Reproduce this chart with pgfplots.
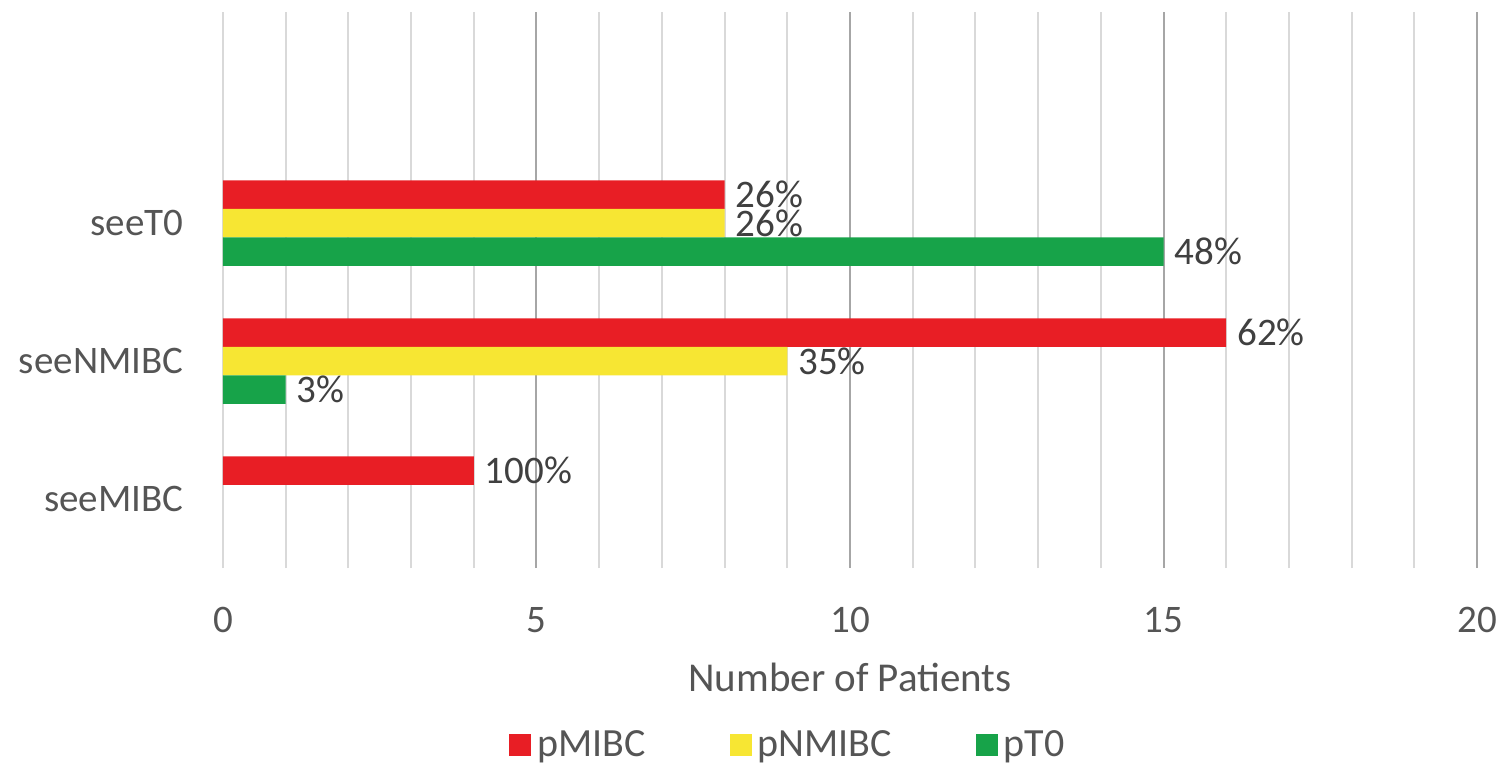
\documentclass[border=0pt]{standalone}
\usepackage{pgfplots}
\pgfplotsset{compat=1.18}
\usepackage{fontspec}
\setmainfont{Carlito}
\definecolor{cred}{HTML}{E81E25}
\definecolor{cyellow}{HTML}{F7E633}
\definecolor{cgreen}{HTML}{17A349}
\definecolor{ctext}{HTML}{555555}
\definecolor{clabel}{HTML}{404040}
\definecolor{gridlight}{HTML}{D9D9D9}
\definecolor{griddark}{HTML}{A6A6A6}
\begin{document}
\begin{tikzpicture}
\begin{axis}[
  scale only axis, width=627pt, height=278pt,
  xmin=0, xmax=20, ymin=-0.5, ymax=3.53,
  xbar, bar width=14.25pt,
  font=\fontsize{19.5}{23}\selectfont,
  /pgf/number format/assume math mode=true,
  axis line style={draw=none},
  tick style={draw=none},
  xtick={5,10,15,20},
  extra x ticks={0},
  extra x tick style={major grid style={color=gridlight, line width=1pt}},
  minor xtick={1,2,3,4,6,7,8,9,11,12,13,14,16,17,18,19},
  xmajorgrids, xminorgrids,
  major grid style={color=griddark, line width=1pt},
  minor grid style={color=gridlight, line width=1pt},
  ytick={0,1,2},
  yticklabels={seeMIBC,seeNMIBC,seeT0},
  ticklabel style={text=ctext},
  xticklabel style={yshift=-16pt},
  yticklabel style={xshift=-12pt},
  xlabel={Number of Patients},
  xlabel style={text=ctext, font=\fontsize{20.5}{24}\selectfont, at={(axis description cs:0.5,-0.196)}, anchor=center},
  nodes near coords,
  point meta=explicit symbolic,
  every node near coord/.append style={text=clabel, anchor=west, xshift=2pt, inner ysep=0pt, font=\fontsize{19.5}{23}\selectfont},
  legend style={draw=none, at={(axis description cs:0.452,-0.318)}, anchor=center,
    legend columns=-1, text=ctext, font=\fontsize{20}{23}\selectfont,
    nodes={inner xsep=3pt},
    /tikz/every even column/.append style={column sep=39pt}},
  legend image code/.code={\fill[#1] (0pt,-5.5pt) rectangle (11pt,5.5pt);},
]
\addplot[fill=cred, draw=none, bar shift=14.25pt] coordinates {(8,2)[26\%] (16,1)[62\%] (4,0)[100\%]};
\addlegendentry{pMIBC}
\addplot[fill=cyellow, draw=none, bar shift=0pt] coordinates {(8,2)[26\%] (9,1)[35\%]};
\addlegendentry{pNMIBC}
\addplot[fill=cgreen, draw=none, bar shift=-14.25pt] coordinates {(15,2)[48\%] (1,1)[3\%]};
\addlegendentry{pT0}
\end{axis}
\path (-111.5pt,-102pt) rectangle (641pt,284pt);
\end{tikzpicture}
\end{document}
